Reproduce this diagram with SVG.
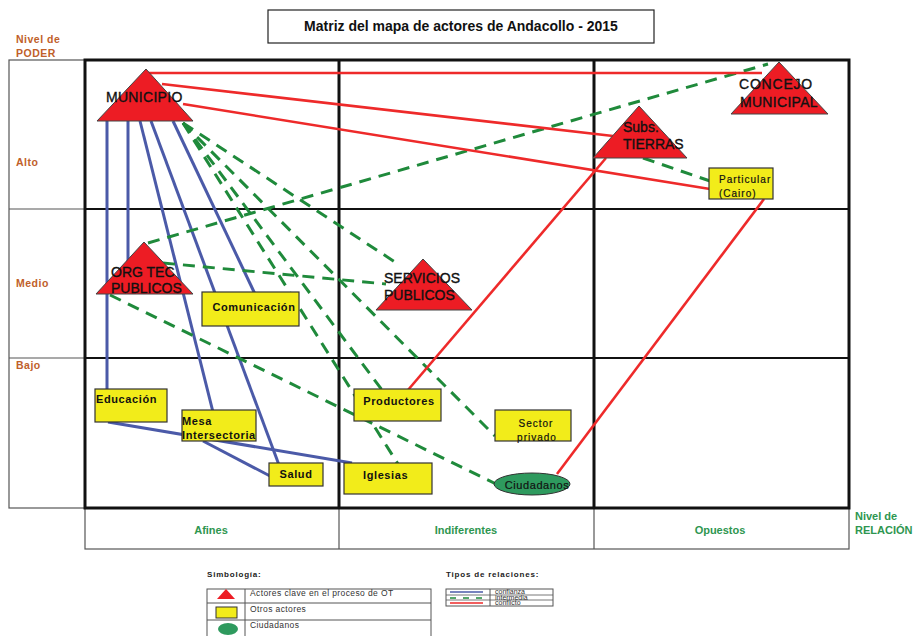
<svg xmlns="http://www.w3.org/2000/svg" width="919" height="636" viewBox="0 0 919 636">
<style>
text{font-family:"Liberation Sans",Arial,sans-serif;}
.grid{stroke:#111;fill:none;}
.thin{stroke:#555;stroke-width:1.2;fill:none;}
.red{stroke:#ee2a2a;stroke-width:2.6;fill:none;}
.blue{stroke:#4b5aa8;stroke-width:3;fill:none;}
.green{stroke:#1f8a3b;stroke-width:3;fill:none;stroke-dasharray:12 8;}
.tri{fill:#ed1c24;stroke:#444;stroke-width:1;}
.box{fill:#f2ec1a;stroke:#333;stroke-width:1.2;}
.tt{font-size:14px;fill:#111;stroke:#111;stroke-width:0.35px;}
.bt{font-size:11px;font-weight:bold;fill:#111;letter-spacing:0.6px;}
.st{font-size:10px;fill:#111;letter-spacing:1px;stroke:#111;stroke-width:0.2px;}
.pw{font-size:10.5px;font-weight:bold;fill:#c0602a;letter-spacing:0.5px;}
.rel{font-size:11px;font-weight:bold;fill:#2e9650;}
.lg{font-size:8.5px;fill:#333;letter-spacing:0.4px;}
.lh{font-size:8px;font-weight:bold;fill:#222;letter-spacing:0.8px;}
</style>

<g id="title">
<rect x="268" y="10" width="386" height="33" fill="#fff" stroke="#222" stroke-width="1.2"/>
<text x="461" y="31" text-anchor="middle" font-size="14" font-weight="bold" fill="#111">Matriz del mapa de actores de Andacollo - 2015</text>
</g>

<g id="axes">
<text class="pw" x="16" y="43">Nivel de</text>
<text class="pw" x="16" y="57">PODER</text>
<text class="pw" x="16" y="166">Alto</text>
<text class="pw" x="16" y="287">Medio</text>
<text class="pw" x="16" y="369">Bajo</text>
<rect class="thin" x="9" y="60" width="76" height="448"/>
<line class="thin" x1="9" y1="209" x2="85" y2="209"/>
<line class="thin" x1="9" y1="358" x2="85" y2="358"/>
<rect class="thin" x="85" y="508" width="764" height="41"/>
<line class="thin" x1="339" y1="508" x2="339" y2="549"/>
<line class="thin" x1="594" y1="508" x2="594" y2="549"/>
<text class="rel" x="211" y="534" text-anchor="middle">Afines</text>
<text class="rel" x="466" y="534" text-anchor="middle">Indiferentes</text>
<text class="rel" x="720" y="534" text-anchor="middle">Opuestos</text>
<text class="rel" x="855" y="520">Nivel de</text>
<text class="rel" x="855" y="534">RELACIÓN</text>
</g>

<g id="grid">
<line class="grid" stroke-width="2" x1="85" y1="209" x2="849" y2="209"/>
<line class="grid" stroke-width="2" x1="85" y1="358" x2="849" y2="358"/>
<line class="grid" stroke-width="3" x1="339" y1="60" x2="339" y2="508"/>
<line class="grid" stroke-width="3" x1="594" y1="60" x2="594" y2="508"/>
<rect class="grid" stroke-width="3" x="85" y="60" width="764" height="448"/>
</g>

<g id="connectors">
<!-- confianza -->
<line class="blue" x1="107" y1="121" x2="107" y2="392"/>
<line class="blue" x1="128" y1="121" x2="128" y2="265"/>
<line class="blue" x1="140" y1="121" x2="213" y2="412"/>
<line class="blue" x1="151" y1="121" x2="279" y2="465"/>
<line class="blue" x1="173" y1="121" x2="255" y2="294"/>
<line class="blue" x1="108" y1="422" x2="352" y2="463"/>
<line class="blue" x1="203" y1="441" x2="270" y2="476"/>
<!-- intermedia -->
<line class="green" x1="183" y1="123" x2="398" y2="264"/>
<line class="green" x1="183" y1="123" x2="495" y2="436"/>
<line class="green" x1="183" y1="123" x2="382" y2="390"/>
<line class="green" x1="183" y1="123" x2="398" y2="464"/>
<line class="green" x1="148" y1="243" x2="768" y2="64"/>
<line class="green" x1="163" y1="263" x2="386" y2="284"/>
<line class="green" x1="110" y1="295" x2="496" y2="484"/>
<line class="green" x1="643" y1="158" x2="710" y2="181"/>
<!-- conflicto -->
<line class="red" x1="146" y1="73" x2="762" y2="73"/>
<line class="red" x1="162" y1="84" x2="613" y2="136"/>
<line class="red" x1="183" y1="104" x2="710" y2="189"/>
<line class="red" x1="606" y1="158" x2="408" y2="390"/>
<line class="red" x1="764" y1="199" x2="557" y2="474"/>
</g>

<g id="municipio">
<polygon class="tri" points="146,69 97,121 193,121"/>
<text class="tt" x="106" y="102" letter-spacing="0.3">MUNICIPIO</text>
</g>
<g id="concejo">
<polygon class="tri" points="779,62 731,114 828,114"/>
<text class="tt" x="739" y="89" letter-spacing="0.8">CONCEJO</text>
<text class="tt" x="740" y="107" letter-spacing="0.3">MUNICIPAL</text>
</g>
<g id="subs-tierras">
<polygon class="tri" points="639,106 593,158 687,158"/>
<text class="tt" x="623" y="132">Subs.</text>
<text class="tt" x="623" y="149">TIERRAS</text>
</g>
<g id="org-tec">
<polygon class="tri" points="144,242 96,294 193,294"/>
<text class="tt" x="111" y="277">ORG TEC</text>
<text class="tt" x="111" y="293">PUBLICOS</text>
</g>
<g id="servicios">
<polygon class="tri" points="423,259 376,310 472,310"/>
<text class="tt" x="384" y="283">SERVICIOS</text>
<text class="tt" x="384" y="300">PUBLICOS</text>
</g>

<g id="particular">
<rect class="box" x="709" y="168" width="64" height="31"/>
<text class="st" x="719" y="183">Particular</text>
<text class="st" x="719" y="197">(Cairo)</text>
</g>
<g id="comunicacion">
<rect class="box" x="202" y="292" width="97" height="34"/>
<text class="bt" x="254" y="311" text-anchor="middle">Comunicación</text>
</g>
<g id="educacion">
<rect class="box" x="95" y="389" width="72" height="33"/>
<text class="bt" x="96" y="403">Educación</text>
</g>
<g id="mesa">
<rect class="box" x="182" y="410" width="74" height="31"/>
<text class="bt" x="182" y="425">Mesa</text>
<text class="bt" x="182" y="439">Intersectoria</text>
</g>
<g id="salud">
<rect class="box" x="269" y="463" width="54" height="23"/>
<text class="bt" x="296" y="478" text-anchor="middle">Salud</text>
</g>
<g id="iglesias">
<rect class="box" x="344" y="463" width="88" height="31"/>
<text class="bt" x="363" y="479">Iglesias</text>
</g>
<g id="productores">
<rect class="box" x="354" y="389" width="87" height="32"/>
<text class="bt" x="399" y="405" text-anchor="middle">Productores</text>
</g>
<g id="sector-privado">
<rect class="box" x="495" y="410" width="76" height="31"/>
<text class="st" x="536" y="427" text-anchor="middle" font-size="10.5">Sector</text>
<text class="st" x="537" y="441" text-anchor="middle" font-size="10.5">privado</text>
</g>
<g id="ciudadanos">
<ellipse cx="532" cy="484" rx="38" ry="11" fill="#2e9a5e" stroke="#333" stroke-width="1"/>
<text x="537" y="489" text-anchor="middle" font-size="11" fill="#111" stroke="#111" stroke-width="0.2" letter-spacing="0.6">Ciudadanos</text>
</g>

<g id="legend">
<text class="lh" x="207" y="577">Simbología:</text>
<rect x="207" y="589" width="224" height="50" fill="none" stroke="#555" stroke-width="1"/>
<line x1="245" y1="589" x2="245" y2="636" stroke="#555" stroke-width="1"/>
<line x1="207" y1="603" x2="431" y2="603" stroke="#555" stroke-width="1"/>
<line x1="207" y1="620" x2="431" y2="620" stroke="#555" stroke-width="1"/>
<polygon points="226,589 217,599 235,599" fill="#ed1c24"/>
<rect x="216" y="607" width="21" height="11" fill="#f2ec1a" stroke="#333" stroke-width="1"/>
<ellipse cx="228" cy="629" rx="10" ry="6" fill="#2e9a5e"/>
<text class="lg" x="250" y="596">Actores clave en el proceso de OT</text>
<text class="lg" x="250" y="612">Otros actores</text>
<text class="lg" x="250" y="628">Ciudadanos</text>
<text class="lh" x="446" y="577">Tipos de relaciones:</text>
<rect x="446" y="589" width="107" height="17" fill="none" stroke="#555" stroke-width="1"/>
<line x1="490" y1="589" x2="490" y2="606" stroke="#555" stroke-width="1"/>
<line x1="446" y1="595" x2="553" y2="595" stroke="#555" stroke-width="0.8"/>
<line x1="446" y1="600" x2="553" y2="600" stroke="#555" stroke-width="0.8"/>
<line x1="450" y1="592" x2="483" y2="592" stroke="#4b5aa8" stroke-width="1.5"/>
<line x1="450" y1="598" x2="483" y2="598" stroke="#1f8a3b" stroke-width="1.5" stroke-dasharray="6 7"/>
<line x1="450" y1="603" x2="483" y2="603" stroke="#ee2a2a" stroke-width="1.5"/>
<text x="495" y="594" font-size="7" fill="#333">confianza</text>
<text x="495" y="599.5" font-size="7" fill="#333">intermedia</text>
<text x="495" y="605" font-size="7" fill="#333">conflicto</text>
</g>
</svg>
